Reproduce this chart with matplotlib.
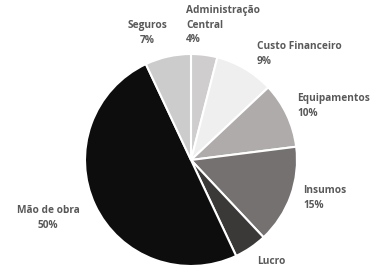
import matplotlib
matplotlib.use("Agg")
import matplotlib.pyplot as plt

categories = ["Administração\nCentral", "Custo Financeiro", "Equipamentos", "Insumos",
              "Lucro", "Mão de obra", "Seguros"]
values = [4, 9, 10, 15, 5, 50, 7]
colors = ["#cfcdcd", "#efefef", "#afabab", "#767171", "#3b3838", "#0d0d0d", "#cccccc"]
show_pct = [True, True, True, True, False, True, True]

W, H = 388, 273
fig = plt.figure(figsize=(W / 100, H / 100), dpi=100)
ax = fig.add_axes([0, 0, 1, 1])

cx, cy, r = 191, H - 160, 106
wedges, _ = ax.pie(values, colors=colors, startangle=90, counterclock=False,
                   center=(cx, cy), radius=r, frame=True,
                   wedgeprops=dict(edgecolor="white", linewidth=1.5))
ax.set_xlim(0, W)
ax.set_ylim(0, H)
ax.set_aspect("equal")
ax.axis("off")

# label positions in pixel coords (x, y_top, ha)
pos = [(186, 5, "left"), (257, 41, "left"), (297, 93, "left"), (303, 185, "left"),
       (257, 256, "left"), (48, 205, "center"), (147, 20, "center")]
for cat, v, sp, (px, py, ha) in zip(categories, values, show_pct, pos):
    txt = f"{cat}\n{v}%" if sp else cat
    ax.text(px, H - py, txt, ha=ha, va="top", fontsize=7.3,
            fontweight="bold", color="#595959", family="Open Sans",
            linespacing=1.45, multialignment=ha)

fig.savefig("out.png", dpi=100)
